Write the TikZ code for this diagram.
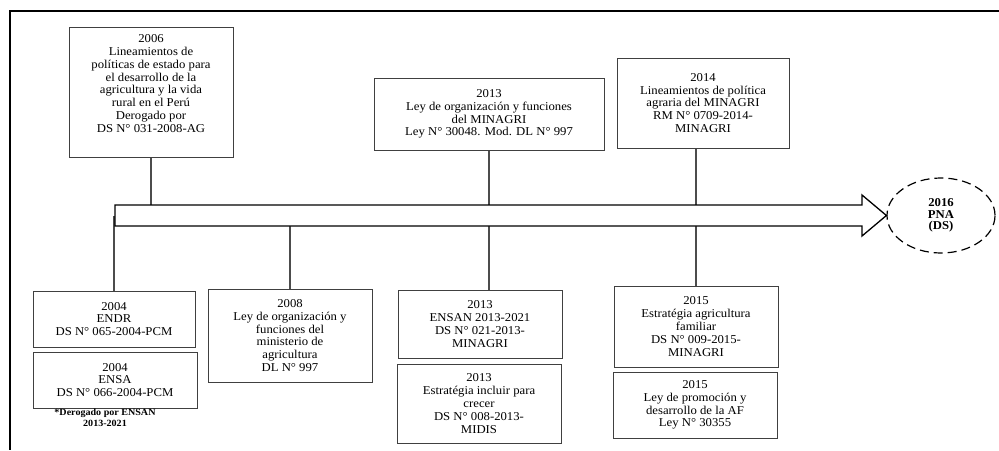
\documentclass[tikz,border=0pt]{standalone}
\usepackage{fontspec}
\setmainfont{Liberation Serif}[FakeStretch=1.06]
\usepackage{tikz}
\usetikzlibrary{shapes,positioning}
\tikzset{caja/.style={rectangle,draw=black!75,line width=1pt,inner sep=0pt,align=center,minimum width=164pt,font=\fontsize{12}{12.8}\selectfont}}
\tikzset{elip/.style={ellipse,draw,dash pattern=on 9pt off 5pt,line width=1.2pt,minimum width=108pt,minimum height=75pt,inner sep=0pt,align=center,font=\fontsize{12}{11.7}\selectfont\bfseries}}
\tikzset{nota/.style={align=center,inner sep=0pt,font=\fontsize{9.5}{10.7}\selectfont\bfseries}}
\tikzset{linea/.style={draw=black!70,line width=1.1pt}}

\begin{document}
\begin{tikzpicture}[x=1pt,y=-1pt]
    \useasboundingbox (0,0) rectangle (999,450);
    \draw[line width=1.3pt] (999,11) -- (10,11) -- (10,450);

    % arriba de la flecha
    \node[caja,minimum height=130pt] (p2006)at (151,92) {2006\\Lineamientos de\\políticas de estado para\\el desarrollo de la\\agricultura y la vida\\rural en el Perú\\Derogado por\\DS N° 031-2008-AG\\[4pt]};
    \node[caja,minimum width=230pt,minimum height=72pt] (p2013)at (489,114) {2013\\Ley de organización y funciones\\del MINAGRI\\Ley N° 30048. Mod. DL N° 997};
    \node[caja,minimum width=172pt,minimum height=90pt] (p2014)at (703,103) {2014\\Lineamientos de política\\agraria del MINAGRI\\RM N° 0709-2014-\\MINAGRI};

    % abajo de la flecha
    \node[caja,minimum width=162pt,minimum height=56pt] (endr)at (114,319) {2004\\ENDR\\DS N° 065-2004-PCM};
    \node[caja,minimum height=56pt] (ensa)at (115,380) {2004\\ENSA\\DS N° 066-2004-PCM};
    \node[nota] (der)at (105,418) {*Derogado por ENSAN\\2013-2021};
    \node[caja,minimum height=93pt] (p2008)at (290,335.5) {2008\\Ley de organización y\\funciones del\\ministerio de\\agricultura\\DL N° 997};
    \node[caja,minimum height=68pt] (ensan)at (480,324) {2013\\ENSAN 2013-2021\\DS N° 021-2013-\\MINAGRI};
    \node[caja,minimum height=79pt] (midis)at (479,403.5) {2013\\Estratégia incluir para\\crecer\\DS N° 008-2013-\\MIDIS};
    \node[caja,minimum height=81pt] (af1)at (696,326.5) {2015\\Estratégia agricultura\\familiar\\DS N° 009-2015-\\MINAGRI};
    \node[caja,minimum height=66pt] (af2)at (695,405) {2015\\Ley de promoción y\\desarrollo de la AF\\Ley N° 30355};

    \node[elip] (pna)at (941,215.5) {2016\\PNA\\(DS)};

    % lineas hacia el eje
    \coordinate (eje) at (500,215.5);
    \draw[linea] (p2006.south) -- (p2006.south |- eje);
    \draw[linea] (p2013.south) -- (p2013.south |- ensan.north);
    \draw[linea] (af1.north |- p2014.south) -- (af1.north);
    \draw[linea] (endr.north) -- (endr.north |- eje);
    \draw[linea] (p2008.north) -- (p2008.north |- eje);

    % flecha del tiempo
    \draw[line width=1.3pt,fill=white] (115,205) -- (862,205) -- (862,195) -- (pna.west)
        -- (862,236) -- (862,226) -- (115,226) -- cycle;
\end{tikzpicture}
\end{document}
